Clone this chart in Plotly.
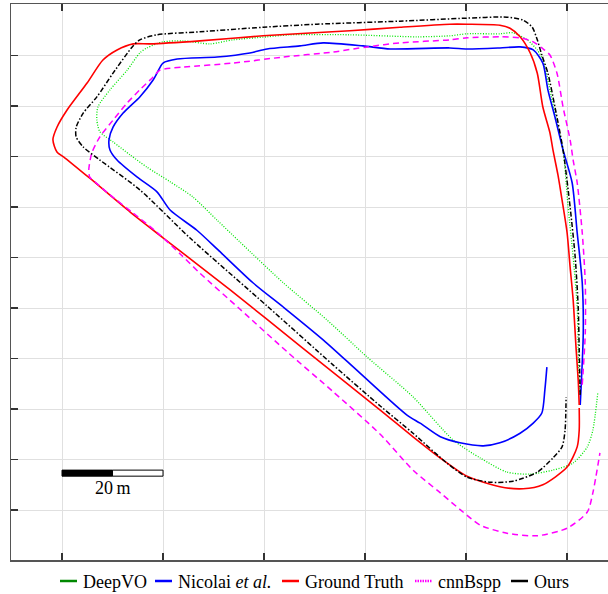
import plotly.graph_objects as go

# ---------------- data (metres) ----------------
gt_x = [102.4, 102.2, 101.8, 101.2, 100.6, 100.0, 99.0, 98.2, 97.2, 96.6, 95.2, 94.1, 92.7, 90.7, 88.7, 86.7,
        80.2, 76.8, 66.9, 57.0, 39.8, 27.3, 17.4, 14.1, 10.9, 8.1, 5.0, 1.0, -1.0, -1.8, -1.0, 0.6, 5.5,
        13.5, 20.0, 33.3, 47.1, 63.0, 69.5, 74.9, 80.2, 86.7, 91.3, 95.2, 100.0, 102.0, 102.4, 102.4]
gt_y = [20.8, 25.7, 31.7, 41.6, 48.1, 54.9, 61.4, 66.3, 71.3, 74.7, 79.8, 86.5, 90.5, 93.7, 95.4, 96.0,
        96.2, 96.2, 95.6, 94.9, 93.9, 92.9, 92.3, 92.3, 91.1, 89.1, 84.6, 79.2, 75.8, 73.3, 70.9, 69.7, 65.7,
        59.0, 53.9, 43.6, 32.5, 19.8, 14.5, 10.3, 6.7, 4.6, 4.2, 5.0, 8.5, 12.5, 15.8, 20.2]

ours_x = [102.6, 102.4, 102.2, 101.6, 100.6, 99.2, 97.6, 96.2, 95.0, 94.1, 93.1, 91.3, 88.1, 80.2, 66.9,
          50.5, 39.8, 27.3, 18.8, 15.4, 13.9, 10.1, 6.9, 4.2, 2.8, 2.8, 4.2, 7.5, 15.4, 25.3, 40.6, 53.7,
          63.0, 69.5, 76.2, 80.2, 84.8, 89.3, 94.1, 97.2, 99.0, 99.6, 99.8]
ours_y = [22.8, 31.7, 40.2, 50.1, 60.0, 71.3, 79.8, 86.5, 90.1, 93.1, 95.6, 97.0, 97.6, 97.4, 96.8,
          96.2, 95.6, 94.7, 94.1, 93.1, 91.7, 86.5, 81.8, 78.6, 75.8, 73.9, 71.9, 69.3, 63.4, 53.9, 40.4, 28.7,
          20.6, 15.2, 9.3, 6.5, 5.5, 5.7, 7.5, 10.3, 12.5, 15.8, 22.4]

nicolai_x = [102.6, 103.2, 103.0, 102.0, 101.0, 99.2, 97.6, 96.2, 95.2, 93.3, 90.7, 86.7, 80.2, 76.8, 65.0,
             59.6, 51.7, 47.1, 40.6, 37.2, 30.7, 22.8, 20.0, 18.8, 18.0, 15.4, 12.1, 10.1, 9.3, 9.5, 10.9,
             14.9, 18.8, 21.4, 26.7, 30.9, 37.8, 43.8, 51.7, 59.0, 68.3, 70.9, 74.9, 78.8, 83.4, 86.7, 90.7,
             93.3, 95.0, 95.6, 96.0]
nicolai_y = [20.8, 35.0, 45.0, 54.9, 64.8, 71.3, 77.8, 83.2, 88.5, 91.1, 91.7, 91.5, 91.3, 91.5, 91.3,
             91.9, 92.5, 91.9, 91.3, 90.5, 89.7, 89.3, 88.5, 86.5, 85.1, 81.8, 78.6, 75.8, 73.3, 71.3, 69.3,
             65.9, 63.0, 59.4, 55.4, 51.5, 45.0, 40.2, 33.7, 27.1, 18.8, 17.2, 14.5, 13.3, 12.7, 13.3, 15.2,
             17.2, 19.2, 23.8, 28.3]

deepvo_x = [102.4, 102.2, 102.0, 101.2, 100.2, 99.2, 98.0, 96.6, 95.2, 94.1, 92.1, 89.3, 86.7, 80.2, 76.8,
            70.3, 57.0, 45.1, 40.6, 33.9, 29.3, 24.0, 20.0, 16.8, 15.4, 12.9, 9.5, 7.1, 6.9, 7.5, 10.1, 13.5,
            16.8, 21.4, 25.9, 30.7, 35.2, 43.8, 52.5, 60.4, 69.5, 77.4, 82.8, 88.1, 92.7, 97.2, 101.2, 104.0,
            105.1, 106.1]
deepvo_y = [23.4, 31.7, 40.2, 50.1, 60.0, 71.3, 76.6, 83.2, 89.1, 91.1, 93.1, 94.5, 94.3, 94.3, 93.9,
            93.7, 94.1, 94.1, 93.7, 93.1, 92.3, 92.9, 92.7, 91.5, 90.5, 87.1, 83.2, 79.8, 77.2, 74.9, 72.9, 70.3,
            67.9, 65.0, 62.0, 57.4, 53.1, 45.0, 37.6, 30.3, 22.4, 13.9, 10.3, 7.5, 7.1, 7.9, 9.3, 12.5,
            15.8, 23.4]

cnnbspp_x = [103.0, 103.6, 103.6, 103.0, 102.0, 101.2, 100.6, 99.2, 98.0, 96.6, 95.0, 93.3, 90.7, 86.7,
             80.2, 76.8, 66.9, 60.4, 53.7, 43.8, 33.9, 24.0, 19.4, 18.0, 15.4, 12.9, 10.1, 7.5, 5.9, 5.3,
             5.5, 6.5, 9.5, 14.1, 18.8, 23.4, 27.3, 35.2, 44.6, 53.7, 63.0, 69.5, 74.9, 79.4, 82.8, 88.1,
             94.1, 100.0, 104.0, 105.1, 106.5]
cnnbspp_y = [24.8, 35.0, 45.0, 54.9, 64.8, 69.3, 73.3, 79.8, 86.5, 90.1, 91.5, 92.7, 93.5, 93.7,
             93.5, 93.1, 92.5, 91.7, 90.7, 89.7, 88.5, 87.7, 87.1, 85.7, 83.2, 80.6, 77.2, 73.9, 70.7, 67.3,
             65.9, 65.0, 62.4, 58.8, 55.0, 50.7, 46.9, 39.8, 31.3, 23.4, 15.0, 7.9, 3.4, -0.4, -3.0, -4.6,
             -5.1, -3.6, -0.4, 3.4, 11.3]

x_grid = [0, 20, 40, 60, 80, 100]
y_grid = [0, 10, 20, 30, 40, 50, 60, 70, 80, 90]
scale_len = 20
scale_label = "20\u2009m"

legend_labels = ["DeepVO", "Nicolai <i>et al.</i>", "Ground Truth", "cnnBspp", "Ours"]

# ---------------- figure ----------------
W, H = 608, 594
ML, MR, MT, MB = 11, 0, 4, 34

fig = go.Figure()

traces = [
    (deepvo_x, deepvo_y, "#00e600", 1.3, "1px,1.6px"),
    (nicolai_x, nicolai_y, "#0000ff", 1.6, "solid"),
    (gt_x, gt_y, "#ff0000", 1.6, "solid"),
    (cnnbspp_x, cnnbspp_y, "#ff00ff", 1.5, "6px,4px"),
    (ours_x, ours_y, "#000000", 1.5, "5px,2px,1.5px,2px"),
]
for xs, ys, col, lw, dash in traces:
    fig.add_trace(go.Scatter(x=xs, y=ys, mode="lines", showlegend=False, hoverinfo="skip",
                             line=dict(color=col, width=lw, dash=dash, shape="spline", smoothing=0.7)))

# scale bar (data units)
fig.add_shape(type="rect", x0=0, x1=scale_len / 2, y0=6.7, y1=7.9, xref="x", yref="y",
              fillcolor="black", line=dict(color="black", width=1))
fig.add_shape(type="rect", x0=scale_len / 2, x1=scale_len, y0=6.7, y1=7.9, xref="x", yref="y",
              fillcolor="white", line=dict(color="black", width=1))
fig.add_annotation(x=scale_len / 2, y=4.4, xref="x", yref="y", text=scale_label, showarrow=False,
                   font=dict(family="Liberation Serif", size=18, color="black"),
                   xanchor="center", yanchor="middle")

# custom legend below the plot
pw = W - ML - MR
ph = H - MT - MB
def px_x(p):
    return (p - ML) / pw
def px_y(p):
    return (H - MB - p) / ph

legend_colors = ["#008800", "#0000ff", "#ff0000", "#ff00ff", "#000000"]
legend_dash = ["solid", "solid", "solid", "1.5px,1px", "solid"]
legend_width = [2.5, 2.5, 2.5, 2.5, 2.5]
text_left = [82, 177, 304, 437, 533]
ly = 581
for lab, col, dsh, lw, tx in zip(legend_labels, legend_colors, legend_dash, legend_width, text_left):
    fig.add_shape(type="line", xref="paper", yref="paper",
                  x0=px_x(tx - 22), x1=px_x(tx - 5), y0=px_y(ly), y1=px_y(ly),
                  line=dict(color=col, width=lw, dash=dsh))
    fig.add_annotation(xref="paper", yref="paper", x=px_x(tx - 1), y=px_y(ly + 1), text=lab,
                       showarrow=False, xanchor="left", yanchor="middle",
                       font=dict(family="Liberation Serif", size=18, color="black"))

axis_common = dict(showgrid=True, gridcolor="#e0e0e0", gridwidth=1, zeroline=False,
                   showticklabels=False, ticks="inside", ticklen=7, tickwidth=1.3, tickcolor="#333",
                   showline=True, linecolor="#555", linewidth=1.5)

fig.update_layout(
    width=W, height=H,
    margin=dict(l=ML, r=MR, t=MT, b=MB, pad=0),
    paper_bgcolor="white", plot_bgcolor="white",
    showlegend=False,
    xaxis=dict(range=[-10.1, 108.1], tickmode="array", tickvals=x_grid, mirror="ticks", **axis_common),
    yaxis=dict(range=[-9.9, 100.2], tickmode="array", tickvals=y_grid, mirror=False, **axis_common),
)

fig.write_html("out.html", config={"displayModeBar": False, "staticPlot": True},
               post_script="document.body.style.margin='0px';document.body.style.overflow='hidden';")
